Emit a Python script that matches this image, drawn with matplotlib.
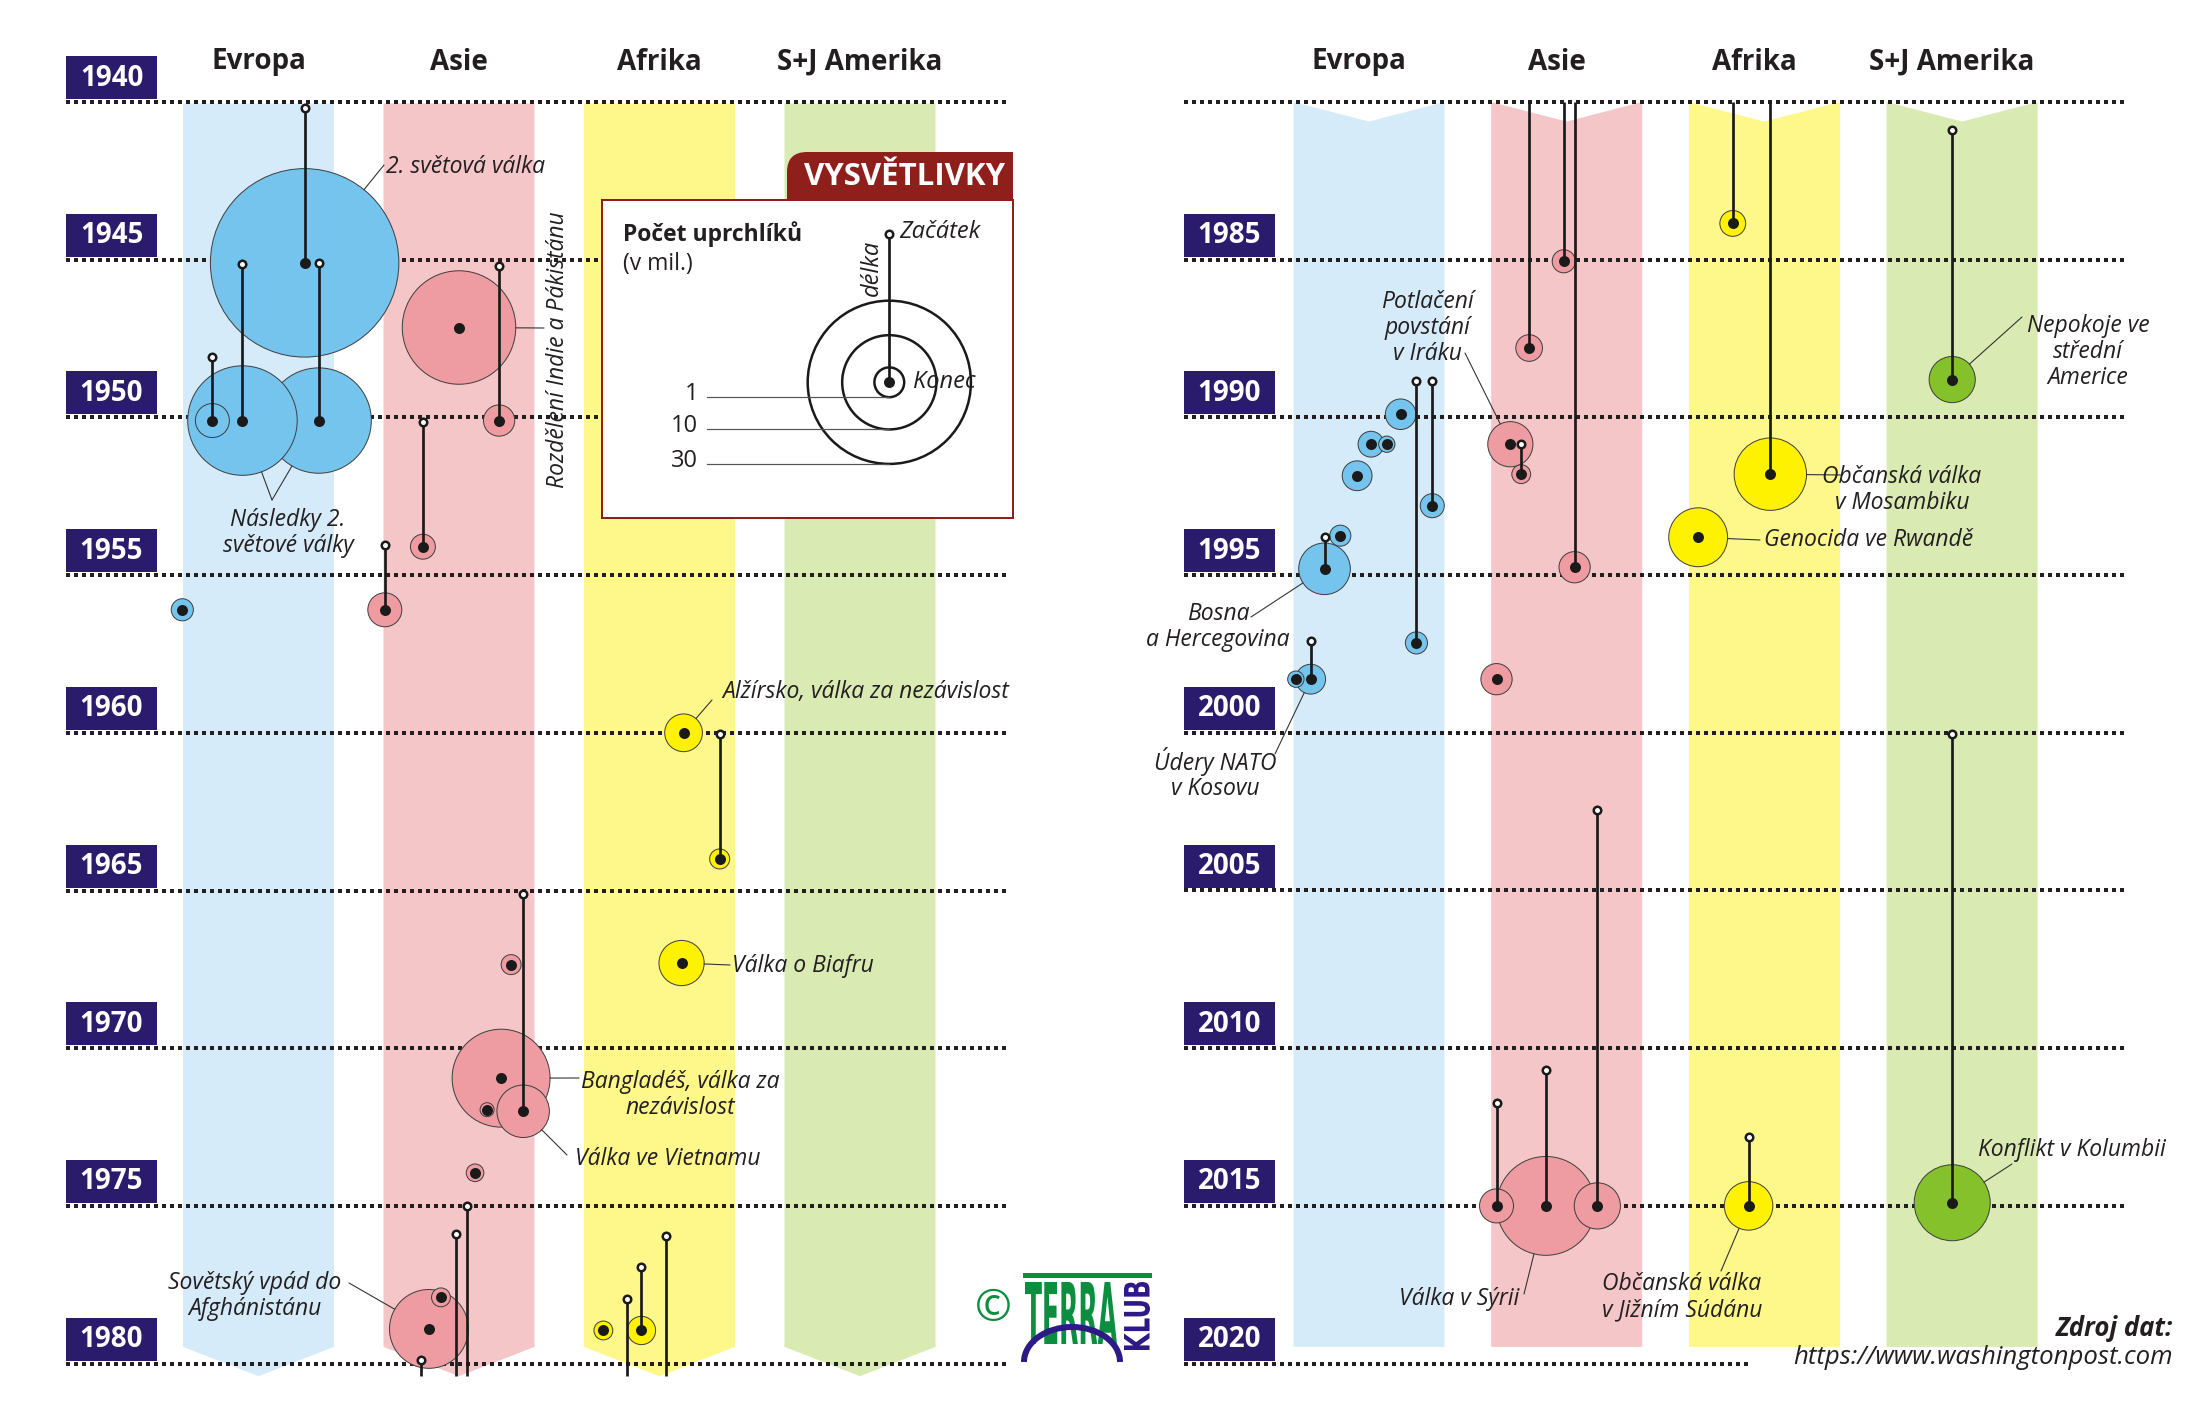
import numpy as np
import matplotlib
matplotlib.use("Agg")
import matplotlib.pyplot as plt
from matplotlib.patches import Rectangle, Polygon, PathPatch, Arc
from matplotlib.path import Path
from matplotlib.textpath import TextPath
from matplotlib.font_manager import FontProperties
import matplotlib.transforms as mtransforms

plt.rcParams['font.family'] = ['Open Sans', 'DejaVu Sans']

W, H, DPI = 2200, 1403, 100
PT = 72 / DPI          # points per pixel
RSCALE = 14.9          # circle radius in px for 1 mil. refugees

regions = ['Evropa', 'Asie', 'Afrika', 'S+J Amerika']
band_colors = ['#d6ebf9', '#f5c6c7', '#fef78a', '#d9eab2']
dot_colors = ['#74c4ee', '#ee9ca1', '#fff200', '#84c12b']

left_years = [1940, 1945, 1950, 1955, 1960, 1965, 1970, 1975, 1980]
right_years = [1980, 1985, 1990, 1995, 2000, 2005, 2010, 2015, 2020]

nan = np.nan
# panel 1940-1980
left_region = [0, 0, 0, 0, 1, 1, 1, 1, 0, 2, 2, 1, 1, 2, 1, 1, 1, 1, 1, 2, 2]
left_offset = [0.23, 0.30, -0.08, -0.23, 0.0, 0.20, -0.18, -0.37, -0.38, 0.12, 0.30,
               0.32, 0.26, 0.11, 0.21, 0.14, 0.08, -0.15, -0.09, -0.28, -0.09]
left_start = [1940.2, 1945.1, 1945.15, 1948.1, nan, 1945.2, 1950.15, 1954.05, nan, nan, 1960.05,
              1965.1, nan, nan, nan, nan, nan, nan, nan, nan, 1976.95]
left_end = [1945.1, 1950.1, 1950.1, 1950.1, 1947.15, 1950.1, 1954.1, 1956.1, 1956.1, 1960.0, 1964.0,
            1972.0, 1967.35, 1967.3, 1970.95, 1971.95, 1973.95, 1978.9, 1977.9, 1978.95, 1978.95]
left_size = [40, 12.5, 13.5, 1.3, 14.5, 1.1, 0.7, 1.3, 0.55, 1.6, 0.45,
             3.1, 0.45, 2.3, 10.8, 0.22, 0.35, 7.0, 0.4, 0.4, 0.9]

# events that start before 1980 and end after
cross_region = [1, 1, 1, 2, 2]
cross_offset = [-0.19, -0.015, 0.04, -0.16, 0.03]
cross_start = [1979.9, 1975.9, 1975.0, 1977.95, 1975.95]
cross_end = [1987.8, 1985.05, 1994.75, 1983.85, 1991.8]
cross_size = [0.8, 0.6, 1.1, 0.75, 5.9]

# panel 1980-2020
right_region = [3, 3, 0, 0, 0, 0, 0, 0, 0, 0, 0, 0, 1, 1, 1, 1, 1, 1, 2, 2]
right_offset = [-0.05, -0.05, 0.24, 0.32, 0.16, 0.01, 0.09, -0.06, -0.225, -0.145, -0.295, -0.37,
                -0.285, -0.23, -0.355, 0.155, -0.105, -0.355, -0.335, -0.08]
right_start = [1980.9, 2000.05, 1988.85, 1988.85, nan, nan, nan, nan, 1993.8, nan, 1997.1, nan,
               nan, 1990.85, nan, 2002.45, 2010.7, 2011.75, nan, 2012.8]
right_end = [1988.8, 2014.9, 1997.15, 1992.8, 1989.9, 1990.85, 1990.85, 1991.85, 1994.8, 1993.75, 1998.3, 1998.3,
             1990.85, 1991.8, 1998.3, 2015.0, 2015.0, 2015.0, 1993.8, 2015.0]
right_size = [2.4, 6.5, 0.55, 0.65, 1.05, 0.75, 0.3, 1.0, 3.0, 0.5, 1.0, 0.3,
              2.3, 0.4, 1.1, 2.4, 11.0, 1.3, 3.9, 2.65]

legend_sizes = [1, 10, 30]
legend_labels = ['1', '10', '30']


def rpx(m):
    return RSCALE * np.sqrt(m)


def msize(m):
    return (2 * rpx(m) * PT) ** 2


def events(reg, off, st, en, sz):
    return [dict(col=r + o, start=s, end=e, size=m, region=r) for r, o, s, e, m in zip(reg, off, st, en, sz)]


# panel geometry in pixels
LEFT = dict(x0=258.5, pitch=200.5, y0=102, ypx=31.54, year0=1940, pxl=0)
RIGHT = dict(x0=1369.0, pitch=197.7, y0=102, ypx=31.54, year0=1980, pxl=1100)


def to_px(g, col, year):
    return g['x0'] + col * g['pitch'], g['y0'] + (year - g['year0']) * g['ypx']


def to_col(g, px):
    return (px - g['x0']) / g['pitch']


fig = plt.figure(figsize=(W / DPI, H / DPI), dpi=DPI)
fig.patch.set_facecolor('white')


def make_axes(g):
    ax = fig.add_axes([g['pxl'] / W, 0, 1100 / W, 1])
    ax.set_xlim(to_col(g, g['pxl']), to_col(g, g['pxl'] + 1100))
    ax.set_ylim(g['year0'] + (H - g['y0']) / g['ypx'], g['year0'] - g['y0'] / g['ypx'])
    ax.axis('off')
    return ax


axL = make_axes(LEFT)
axR = make_axes(RIGHT)
ov = fig.add_axes([0, 0, 1, 1])
ov.set_xlim(0, W)
ov.set_ylim(H, 0)
ov.axis('off')

# bands
for i in range(4):
    hw = 75.5 / LEFT['pitch']
    axL.add_patch(Polygon([(i - hw, 1940.05), (i + hw, 1940.05), (i + hw, 1979.47), (i, 1980.4), (i - hw, 1979.47)],
                          closed=True, fc=band_colors[i], ec='none', zorder=1))
    hw = 75.5 / RIGHT['pitch']
    axR.add_patch(Polygon([(i - hw, 1980.0), (i, 1980.62), (i + hw, 1980.0), (i + hw, 2019.47), (i - hw, 2019.47)],
                          closed=True, fc=band_colors[i], ec='none', zorder=1))

# dotted year lines
dot_kw = dict(color='#231f20', lw=4 * PT, linestyle=(0, (1, 1)), zorder=2)
for y in left_years:
    axL.plot([to_col(LEFT, 66), to_col(LEFT, 1007)], [y, y], **dot_kw)
for y in right_years:
    xe = 1752 if y == 2020 else 2126
    axR.plot([to_col(RIGHT, 1184), to_col(RIGHT, xe)], [y, y], **dot_kw)


def draw_events(ax, ev, ylo, yhi):
    circ = sorted([e for e in ev if ylo <= e['end'] <= yhi], key=lambda e: -(e['size'] // 4))
    ax.scatter([e['col'] for e in circ], [e['end'] for e in circ], s=[msize(e['size']) for e in circ],
               c=[dot_colors[e['region']] for e in circ], edgecolors='#404040', linewidths=1.0 * PT, zorder=3)
    for e in ev:
        if np.isnan(e['start']):
            continue
        y1 = max(e['start'], ylo)
        y2 = min(e['end'], yhi)
        if y2 > y1:
            ax.plot([e['col'], e['col']], [y1, y2], color='#1a1a1a', lw=2.7 * PT, zorder=4, solid_capstyle='butt')
    st = [e for e in ev if not np.isnan(e['start']) and ylo <= e['start'] <= yhi]
    ax.scatter([e['col'] for e in st], [e['start'] for e in st], s=(7.5 * PT) ** 2, c='white',
               edgecolors='#1a1a1a', linewidths=2.5 * PT, zorder=5)
    ax.scatter([e['col'] for e in circ], [e['end'] for e in circ], s=(11 * PT) ** 2, c='#1a1a1a',
               linewidths=0, zorder=6)


ev_left = events(left_region, left_offset, left_start, left_end, left_size)
ev_cross = events(cross_region, cross_offset, cross_start, cross_end, cross_size)
ev_right = events(right_region, right_offset, right_start, right_end, right_size)
draw_events(axL, ev_left + ev_cross, 1940, 1980.4)
draw_events(axR, ev_right + ev_cross, 1980.0, 2020)

# year boxes and column headers
for g, years, bx in [(LEFT, left_years, 66), (RIGHT, right_years[1:], 1184)]:
    for y in years:
        _, py = to_px(g, 0, y)
        ov.add_patch(Rectangle((bx, py - 46), 91, 43, fc='#2b1b6c', ec='none', zorder=5))
        ov.text(bx + 45.5, py - 24, str(y), color='white', fontsize=20, fontweight='bold',
                ha='center', va='center', zorder=6)
    for i, name in enumerate(regions):
        px, _ = to_px(g, i, g['year0'])
        if g is RIGHT:
            px -= 10
        ov.text(px, 62, name, fontsize=20, fontweight='bold', color='#231f20', ha='center', va='center')

# annotations
lead_kw = dict(arrowstyle='-', lw=1.1 * PT, color='#333333', shrinkA=0)


def leader(ax, e, px, py):
    ax.annotate('', xy=(e['col'], e['end']), xycoords='data', xytext=(px, py), textcoords=ov.transData,
                arrowprops=dict(shrinkB=rpx(e['size']) * PT, **lead_kw), zorder=4)


ann_kw = dict(fontsize=16.5, fontstyle='italic', color='#231f20', va='center', linespacing=1.1)
leader(axL, ev_left[0], 384, 165)
ov.text(386, 167, '2. světová válka', ha='left', **ann_kw)
leader(axL, ev_left[1], 272, 500)
leader(axL, ev_left[2], 272, 500)
ov.text(288, 533, 'Následky 2.\nsvětové války', ha='center', **ann_kw)
leader(axL, ev_left[4], 544, 328)
ov.text(558, 350, 'Rozdělení Indie a Pákistánu', ha='center', rotation=90, **ann_kw)
leader(axL, ev_left[9], 712, 700)
ov.text(722, 692, 'Alžírsko, válka za nezávislost', ha='left', **ann_kw)
leader(axL, ev_left[13], 730, 965)
ov.text(732, 966, 'Válka o Biafru', ha='left', **ann_kw)
leader(axL, ev_left[14], 579, 1078)
ov.text(680, 1095, 'Bangladéš, válka za\nnezávislost', ha='center', **ann_kw)
leader(axL, ev_left[11], 567, 1155)
ov.text(575, 1159, 'Válka ve Vietnamu', ha='left', **ann_kw)
leader(axL, ev_left[17], 349, 1283)
ov.text(255, 1296, 'Sovětský vpád do\nAfghánistánu', ha='center', **ann_kw)

leader(axR, ev_right[12], 1465, 353)
ov.text(1427, 328, 'Potlačení\npovstání\nv Iráku', ha='center', **ann_kw)
leader(axR, ev_right[0], 2022, 317)
ov.text(2088, 352, 'Nepokoje ve\nstřední\nAmerice', ha='center', **ann_kw)
leader(axR, ev_cross[4], 1842, 475)
ov.text(1902, 490, 'Občanská válka\nv Mosambiku', ha='center', **ann_kw)
leader(axR, ev_right[18], 1760, 540)
ov.text(1764, 540, 'Genocida ve Rwandě', ha='left', **ann_kw)
leader(axR, ev_right[8], 1251, 617)
ov.text(1218, 627, 'Bosna\na Hercegovina', ha='center', **ann_kw)
leader(axR, ev_right[10], 1275, 754)
ov.text(1215, 774, 'Údery NATO\nv Kosovu', ha='center', **ann_kw)
leader(axR, ev_right[16], 1524, 1294)
ov.text(1459, 1299, 'Válka v Sýrii', ha='center', **ann_kw)
leader(axR, ev_right[19], 1721, 1271)
ov.text(1682, 1297, 'Občanská válka\nv Jižním Súdánu', ha='center', **ann_kw)
leader(axR, ev_right[1], 2012, 1164)
ov.text(1978, 1150, 'Konflikt v Kolumbii', ha='left', **ann_kw)

# legend box
red = '#8e1f1b'
ov.add_patch(Rectangle((602, 200), 411, 318, fc='white', ec=red, lw=2 * PT, zorder=7))
tab = Path([(787, 200), (787, 172), (787, 152), (807, 152), (1013, 152), (1013, 200), (787, 200)],
           [Path.MOVETO, Path.LINETO, Path.CURVE3, Path.CURVE3, Path.LINETO, Path.LINETO, Path.CLOSEPOLY])
ov.add_patch(PathPatch(tab, fc=red, ec='none', zorder=7))
ov.text(905, 177, 'VYSVĚTLIVKY', color='white', fontsize=22.5, fontweight='bold', ha='center', va='center', zorder=8)
ov.text(623, 234, 'Počet uprchlíků', fontsize=16.5, fontweight='bold', color='#231f20', ha='left', va='center', zorder=8)
ov.text(623, 264, '(v mil.)', fontsize=16.5, color='#231f20', ha='left', va='center', zorder=8)

lcx, lcy, lsy = 889.3, 382.3, 234.3
ov.scatter([lcx] * 3, [lcy] * 3, s=[msize(m) for m in legend_sizes], facecolors='none',
           edgecolors='#1a1a1a', linewidths=2.5 * PT, zorder=8)
for m, lab in zip(legend_sizes, legend_labels):
    yb = lcy + rpx(m)
    ov.plot([707, lcx], [yb, yb], color='#555555', lw=1.2 * PT, zorder=8)
    ov.text(698, yb - 3, lab, fontsize=17, color='#231f20', ha='right', va='center', zorder=8)
ov.plot([lcx, lcx], [lsy, lcy], color='#1a1a1a', lw=2.7 * PT, zorder=9)
ov.scatter([lcx], [lsy], s=(7.5 * PT) ** 2, c='white', edgecolors='#1a1a1a', linewidths=2.5 * PT, zorder=10)
ov.scatter([lcx], [lcy], s=(11 * PT) ** 2, c='#1a1a1a', linewidths=0, zorder=10)
ov.text(899, 232, 'Začátek', fontsize=17, fontstyle='italic', color='#231f20', ha='left', va='center', zorder=10)
ov.text(913, 382, 'Konec', fontsize=17, fontstyle='italic', color='#231f20', ha='left', va='center', zorder=10)
ov.text(872, 268, 'délka', fontsize=17, fontstyle='italic', color='#231f20', ha='center', va='center',
        rotation=90, zorder=10)

# source
ov.text(2173, 1329, 'Zdroj dat:', fontsize=18.5, fontweight='bold', fontstyle='italic', color='#231f20',
        ha='right', va='center')
ov.text(2173, 1358, 'https://www.washingtonpost.com', fontsize=18.5, fontstyle='italic', color='#231f20',
        ha='right', va='center')

# logo
green, purple = '#0b8f3f', '#2e1a87'
ov.text(993, 1310, '©', fontsize=32, color=green, ha='center', va='center')


def text_box(txt, x0, y0, w, h, color, rotate=False):
    tp = TextPath((0, 0), txt, size=100, prop=FontProperties(family='DejaVu Sans', weight='bold'))
    if rotate:
        tp = mtransforms.Affine2D().rotate_deg(90).transform_path(tp)
    bb = tp.get_extents()
    tr = mtransforms.Affine2D().translate(-bb.x0, -bb.y0).scale(w / bb.width, -h / bb.height).translate(x0, y0 + h)
    ov.add_patch(PathPatch(tr.transform_path(tp), fc=color, ec='none', zorder=8))


ov.add_patch(Rectangle((1023, 1273), 129, 5, fc=green, ec='none', zorder=8))
text_box('TERRA', 1025, 1282, 92, 62, green)
text_box('KLUB', 1124, 1282, 26, 68, purple, rotate=True)
ov.add_patch(Arc((1072, 1362), 96, 70, theta1=180, theta2=360, color=purple, lw=6 * PT, zorder=9))

fig.savefig('out.png', dpi=DPI)
